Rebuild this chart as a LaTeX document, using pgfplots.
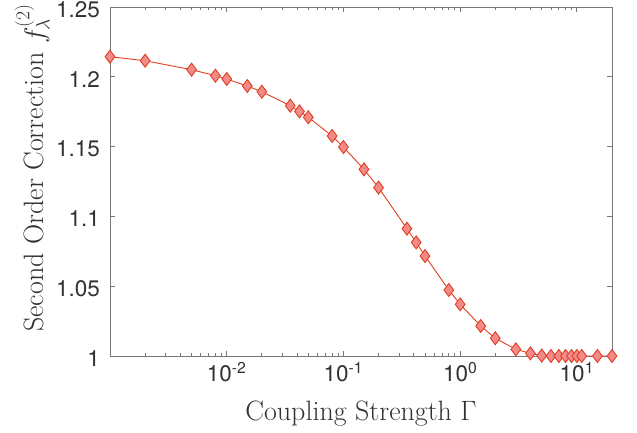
\RequirePackage{fix-cm}
\documentclass[border=0pt]{standalone}
\usepackage{fontspec}
\newfontfamily\helv{TeX Gyre Heros}
\usepackage{pgfplots}
\pgfplotsset{compat=1.18}
\definecolor{axgray}{RGB}{120,120,120}
\definecolor{txtgray}{RGB}{50,50,50}
\definecolor{mkedge}{RGB}{226,62,30}
\definecolor{mkfill}{RGB}{242,138,138}

\begin{document}
\begin{tikzpicture}
\begin{axis}[
    xmode=log,
    scale only axis,
    width=502pt, height=349pt,
    xmin=0.001, xmax=20,
    ymin=1, ymax=1.25,
    xtick={0.01,0.1,1,10},
    xticklabels={10\textsuperscript{-2},10\textsuperscript{-1},10\textsuperscript{0},10\textsuperscript{1}},
    minor xtick={0.002,0.003,0.004,0.005,0.006,0.007,0.008,0.009,
                 0.02,0.03,0.04,0.05,0.06,0.07,0.08,0.09,
                 0.2,0.3,0.4,0.5,0.6,0.7,0.8,0.9,
                 2,3,4,5,6,7,8,9,20},
    ytick={1,1.05,1.1,1.15,1.2,1.25},
    yticklabels={1,1.05,1.1,1.15,1.2,1.25},
    tick align=inside,
    major tick length=5pt,
    minor tick length=3pt,
    tick style={axgray, line width=0.8pt},
    axis line style={axgray, line width=0.8pt},
    xticklabel style={font=\helv\fontsize{22.5}{26}\selectfont, text=txtgray, inner sep=0pt, anchor=north, yshift=-6pt},
    yticklabel style={font=\helv\fontsize{22.5}{26}\selectfont, text=txtgray, inner sep=0pt, anchor=east, xshift=-10pt, yshift=-2.5pt},
    xlabel={Coupling Strength $\Gamma$},
    ylabel={Second Order Correction $f_\lambda^{(2)}$},
    xlabel style={at={(axis description cs:0.5,0)}, anchor=base, yshift=-65pt,
                  font=\fontsize{28}{32}\selectfont, text=txtgray, inner sep=0pt},
    ylabel style={at={(axis description cs:-0.1315,0.539)}, anchor=base,
                  font=\fontsize{28}{32}\selectfont, text=txtgray, inner sep=0pt},
    clip=false,
]
% values
\addplot[mkedge, line width=0.9pt, mark=diamond*, mark size=6.5pt,
         mark options={fill=mkfill, draw=mkedge, line width=0.9pt, solid}]
table {
x y
0.001 1.2144
0.002 1.2115
0.005 1.2051
0.008 1.2008
0.01 1.1984
0.015 1.1934
0.02 1.1893
0.035 1.1793
0.042 1.1752
0.05 1.1710
0.08 1.1576
0.1 1.1497
0.15 1.1337
0.2 1.1206
0.35 1.0912
0.42 1.0814
0.5 1.0716
0.8 1.0473
1 1.0370
1.5 1.0215
2 1.0127
3 1.0048
4 1.0019
5 1.0003
6 1.0000
7 1.0000
8 1.0000
9 1.0000
10 1.0000
11 1.0000
15 1.0000
20 1.0000
};
\end{axis}
\path[use as bounding box] ([xshift=-110pt,yshift=-77pt]current axis.south west) rectangle ++(637pt,433pt);
\end{tikzpicture}
\end{document}
